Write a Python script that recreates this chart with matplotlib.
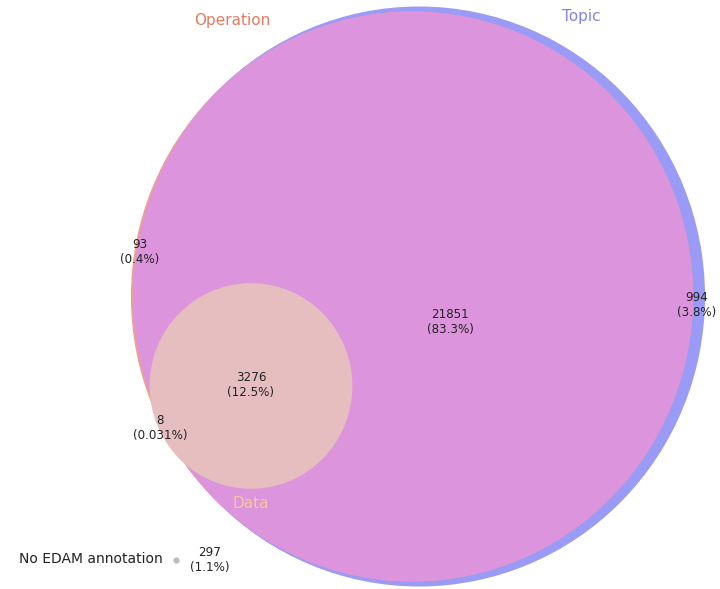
import matplotlib
matplotlib.use("Agg")
import matplotlib.pyplot as plt
from matplotlib.patches import Ellipse
import numpy as np

# region counts of the EDAM venn
region_names = ["Operation only", "Operation & Topic", "Topic only", "All three", "Operation & Data"]
region_counts = [93, 21851, 994, 3276, 8]
no_edam_count = 297

set_names = ["Operation", "Topic", "Data"]
set_colors = ["#e8795f", "#8383e6", "#f6c79f"]

op_size = 93 + 21851 + 3276 + 8
topic_size = 994 + 21851 + 3276
data_size = 3276 + 8
total = sum(region_counts)


def fmt_pct(n):
    p = 100.0 * n / total
    if p >= 0.1:
        return f"{p:.1f}%"
    return f"{p:.2g}%"


def label(n):
    return f"{n}\n({fmt_pct(n)})"


# pixel layout: topic circle radius in px
RX, RY = 286, 290


def radii(size):
    f = np.sqrt(size / topic_size)
    return 2 * RX * f, 2 * RY * f


fig = plt.figure(figsize=(7.2, 5.89), dpi=100)
ax = fig.add_axes([0, 0, 1, 1])
ax.set_xlim(0, 720)
ax.set_ylim(589, 0)
ax.axis("off")

topic_c = (419, 296.5)
op_c = (412, 296.5)
data_c = (251, 386)

w, h = radii(topic_size)
topic = Ellipse(topic_c, w, h, facecolor="#9a9af7", edgecolor="none")
ax.add_patch(topic)

w, h = radii(op_size)
op = Ellipse(op_c, w, h, facecolor="#eea08c", edgecolor="none")
ax.add_patch(op)

# operation & topic overlap
w, h = radii(topic_size)
inter = Ellipse(topic_c, w, h, facecolor="#dc94dd", edgecolor="none")
ax.add_patch(inter)
inter.set_clip_path(op)

w, h = radii(data_size)
data = Ellipse(data_c, w, h, facecolor="#e6bec0", edgecolor="none")
ax.add_patch(data)

fs = 8.6
ax.text(140, 252, label(region_counts[0]), ha="center", va="center", fontsize=fs, color="#222222")
ax.text(450, 322, label(region_counts[1]), ha="center", va="center", fontsize=fs, color="#222222")
ax.text(697, 305, label(region_counts[2]), ha="center", va="center", fontsize=fs, color="#222222")
ax.text(251, 385, label(region_counts[3]), ha="center", va="center", fontsize=fs, color="#222222")
ax.text(160, 428, label(region_counts[4]), ha="center", va="center", fontsize=fs, color="#222222")

ax.text(232, 20, set_names[0], ha="center", va="center", fontsize=11, color=set_colors[0])
ax.text(581, 16, set_names[1], ha="center", va="center", fontsize=11, color=set_colors[1])
ax.text(251, 504, set_names[2], ha="center", va="center", fontsize=11, color=set_colors[2])

# tools without EDAM annotation
ax.scatter([176], [560], s=12, color="#bbbbbb", zorder=3)
ax.text(163, 559, "No EDAM annotation", ha="right", va="center", fontsize=10, color="#222222")
ax.text(210, 560, f"{no_edam_count}\n({100 * no_edam_count / total:.1f}%)",
        ha="center", va="center", fontsize=fs, color="#222222")

fig.savefig("out.png", dpi=100)
